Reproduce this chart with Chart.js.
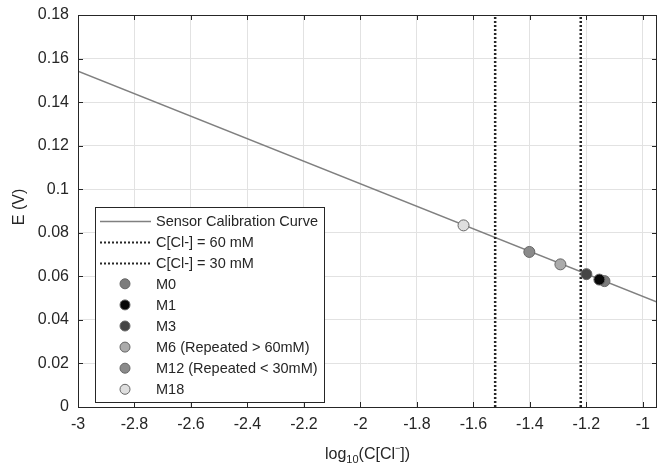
<!DOCTYPE html>
<html>
<head>
<meta charset="utf-8">
<script src="https://cdn.jsdelivr.net/npm/chart.js@4.4.1/dist/chart.umd.min.js"></script>
<style>
  body { margin: 0; background: #fff; }
  #wrap { width: 658px; height: 468px; position: relative; }
</style>
</head>
<body>
<div id="wrap"><canvas id="chart"></canvas></div>
<script>
// axis ticks
const xTicks = [-3, -2.8, -2.6, -2.4, -2.2, -2, -1.8, -1.6, -1.4, -1.2, -1];
const yTicks = [0, 0.02, 0.04, 0.06, 0.08, 0.1, 0.12, 0.14, 0.16, 0.18];

// calibration curve (end points of the fitted line)
const curveX = [-3, -0.95];
const curveY = [0.1542, 0.0482];

// chloride limits, log10(C)
const limitNames = ['C[Cl-] = 60 mM', 'C[Cl-] = 30 mM'];
const limitX = [-1.220, -1.523];

// measurements
const sampleNames = ['M0', 'M1', 'M3', 'M6 (Repeated > 60mM)', 'M12 (Repeated < 30mM)', 'M18'];
const sampleX = [-1.136, -1.154, -1.200, -1.292, -1.402, -1.635];
const sampleY = [0.0578, 0.0585, 0.0610, 0.0655, 0.0712, 0.0834];
const sampleColors = ['#7c7c7c', '#080808', '#454545', '#ababab', '#8a8a8a', '#dedede'];

const textColor = '#262626';
const fontFam = '"Liberation Sans", Arial, sans-serif';

const datasets = [];
let ord = 20;
datasets.push({
  label: 'Sensor Calibration Curve',
  data: curveX.map((x, i) => ({x: x, y: curveY[i]})),
  showLine: true,
  borderColor: '#808080',
  borderWidth: 1.5,
  pointRadius: 0,
  order: ord--
});
limitNames.forEach((name, i) => {
  datasets.push({
    label: name,
    data: [{x: limitX[i], y: 0}, {x: limitX[i], y: 0.18}],
    showLine: true,
    borderColor: '#262626',
    borderWidth: 2.5,
    borderDash: [2, 2],
    pointRadius: 0,
    order: ord--
  });
});
sampleNames.forEach((name, i) => {
  datasets.push({
    label: name,
    data: [{x: sampleX[i], y: sampleY[i]}],
    showLine: false,
    pointRadius: 5.5,
    pointBackgroundColor: sampleColors[i],
    pointBorderColor: '#666',
    pointBorderWidth: 1,
    order: ord--
  });
});

function fmt(v) {
  return String(parseFloat(v.toFixed(2)));
}

// box, inward ticks, axis titles and legend inside the plot
const matlabLook = {
  id: 'matlabLook',
  afterDraw(chart) {
    const c = chart.ctx;
    const a = chart.chartArea;
    const xs = chart.scales.x, ys = chart.scales.y;
    c.save();
    c.strokeStyle = textColor;
    c.lineWidth = 1;
    c.strokeRect(a.left + 0.5, a.top + 0.5, a.right - a.left - 1, a.bottom - a.top);
    c.beginPath();
    xTicks.forEach(v => {
      const px = Math.round(xs.getPixelForValue(v)) + 0.5;
      c.moveTo(px, a.bottom); c.lineTo(px, a.bottom - 5);
      c.moveTo(px, a.top); c.lineTo(px, a.top + 5);
    });
    yTicks.forEach(v => {
      const py = Math.round(ys.getPixelForValue(v)) + 0.5;
      c.moveTo(a.left, py); c.lineTo(a.left + 5, py);
      c.moveTo(a.right, py); c.lineTo(a.right - 5, py);
    });
    c.stroke();

    // axis titles
    c.fillStyle = textColor;
    c.textBaseline = 'alphabetic';
    const parts = [
      {t: 'log', s: 16, dy: 0},
      {t: '10', s: 11, dy: 4},
      {t: '(C[Cl', s: 16, dy: 0},
      {t: '\u2212', s: 9, dy: -8},
      {t: '])', s: 16, dy: 0}
    ];
    let w = 0;
    parts.forEach(p => { c.font = p.s + 'px ' + fontFam; p.w = c.measureText(p.t).width; w += p.w; });
    let px = (a.left + a.right) / 2 - w / 2;
    const base = 459;
    c.textAlign = 'left';
    parts.forEach(p => {
      c.font = p.s + 'px ' + fontFam;
      c.fillText(p.t, px, base + p.dy);
      px += p.w;
    });
    c.save();
    c.translate(24, (a.top + a.bottom) / 2 - 4);
    c.rotate(-Math.PI / 2);
    c.font = '16px ' + fontFam;
    c.textAlign = 'center';
    c.fillText('E (V)', 0, 0);
    c.restore();

    // legend
    const lx = 95, ly = 207, lw = 229, lh = 195, step = 21.1;
    c.fillStyle = '#fff';
    c.fillRect(lx, ly, lw, lh);
    c.strokeStyle = textColor;
    c.strokeRect(lx + 0.5, ly + 0.5, lw, lh);
    c.font = '14.5px ' + fontFam;
    c.textBaseline = 'middle';
    c.textAlign = 'left';
    chart.data.datasets.forEach((ds, i) => {
      const y = ly + 13.5 + i * step;
      c.save();
      if (ds.showLine) {
        c.strokeStyle = ds.borderColor;
        c.lineWidth = Math.min(ds.borderWidth, 2);
        c.setLineDash(ds.borderDash || []);
        c.beginPath();
        c.moveTo(100, Math.round(y) + 0.5);
        c.lineTo(151, Math.round(y) + 0.5);
        c.stroke();
      } else {
        c.fillStyle = ds.pointBackgroundColor;
        c.strokeStyle = ds.pointBorderColor;
        c.lineWidth = 1;
        c.beginPath();
        c.arc(125, y, 5, 0, Math.PI * 2);
        c.fill();
        c.stroke();
      }
      c.restore();
      c.fillStyle = textColor;
      c.fillText(ds.label, 156, y + 1);
    });
    c.restore();
  }
};

new Chart(document.getElementById('chart'), {
  type: 'scatter',
  data: { datasets: datasets },
  options: {
    responsive: true,
    maintainAspectRatio: false,
    animation: false,
    layout: { autoPadding: false, padding: { top: 15, right: 1, left: 0, bottom: 0 } },
    plugins: { legend: { display: false }, tooltip: { enabled: false } },
    scales: {
      x: {
        type: 'linear',
        min: -3,
        max: -0.95,
        afterBuildTicks: s => { s.ticks = xTicks.map(v => ({value: v})); },
        afterFit: s => { s.height = 61; s.paddingLeft = 0; s.paddingRight = 0; },
        grid: { color: '#e2e2e2', drawTicks: false },
        border: { display: false },
        ticks: {
          color: textColor,
          font: { size: 16, family: fontFam },
          padding: 8,
          maxRotation: 0,
          autoSkip: false,
          callback: v => fmt(v)
        }
      },
      y: {
        type: 'linear',
        min: 0,
        max: 0.18,
        afterBuildTicks: s => { s.ticks = yTicks.map(v => ({value: v})); },
        afterFit: s => { s.width = 78; s.paddingTop = 0; s.paddingBottom = 0; },
        grid: { color: '#e2e2e2', drawTicks: false },
        border: { display: false },
        ticks: {
          color: textColor,
          font: { size: 16, family: fontFam },
          padding: 9,
          autoSkip: false,
          callback: v => fmt(v)
        }
      }
    }
  },
  plugins: [matlabLook]
});
</script>
</body>
</html>
